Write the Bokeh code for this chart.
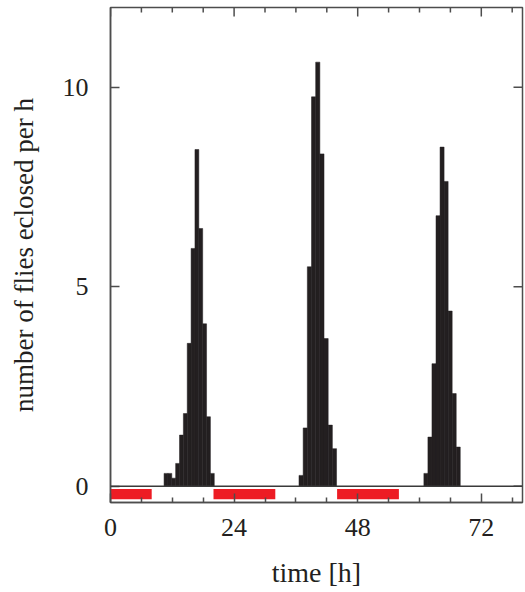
import math
from bokeh.plotting import figure
from bokeh.models import FixedTicker, Range1d, Span
from bokeh.embed import file_html
from bokeh.resources import INLINE

# ---- data ----
# eclosion histogram: three peaks, each a run of equal-width bins
peak_start = [10.4, 36.6, 60.85]          # left edge of first bin of each peak [h]
bin_width = [0.75, 0.81, 0.785]           # bin width of each peak [h]
peak1_counts = [0.32, 0.32, 0.20, 0.57, 1.28, 1.82, 3.58, 5.96, 8.44, 6.46, 4.07, 1.74, 0.32]
peak2_counts = [0.27, 1.46, 5.50, 9.76, 10.63, 8.33, 3.70, 1.53, 0.94]
peak3_counts = [0.32, 1.23, 3.07, 6.78, 8.50, 7.64, 4.39, 2.32, 0.98]
peak_counts = [peak1_counts, peak2_counts, peak3_counts]

# dark phases (red bars)
dark_start = [0, 20, 44]
dark_end = [8, 32, 56]

x_major = [0, 24, 48, 72]
x_minor = [6, 12, 18, 30, 36, 42, 54, 60, 66, 78]
y_major = [0, 5, 10]

X_END = 80
Y_START, Y_END = -0.41, 12

# ---- build bars ----
left, right, top = [], [], []
for s, w, cs in zip(peak_start, bin_width, peak_counts):
    for i, c in enumerate(cs):
        left.append(s + i * w)
        right.append(s + (i + 1) * w)
        top.append(c)

FONT = "Liberation Serif"
TXT = "#231f20"
FRAME = "#4d4d4d"

p = figure(width=525, height=592, output_backend="svg", toolbar_location=None,
           x_range=Range1d(0, X_END), y_range=Range1d(Y_START, Y_END),
           min_border_left=110, min_border_right=3, min_border_top=7, min_border_bottom=90,
           x_axis_label="time [h]", y_axis_label="number of flies eclosed per h")
p.grid.visible = False
p.background_fill_color = "white"
p.border_fill_color = "white"
p.outline_line_color = FRAME
p.outline_line_width = 1.5

p.quad(left=left, right=right, bottom=0, top=top,
       fill_color="#231f20", line_color="#231f20", line_width=0.5)

p.add_layout(Span(location=0, dimension="width", line_color="#3a3a3a", line_width=1.5))

p.quad(left=dark_start, right=dark_end, bottom=-0.33, top=-0.07,
       fill_color="#ed1c24", line_color=None)

# mirrored ticks on the top and right frame edges
p.ray(x=x_major, y=[Y_END] * len(x_major), length=9, length_units="screen",
      angle=-math.pi / 2, line_color=FRAME, line_width=1.5)
p.ray(x=x_minor, y=[Y_END] * len(x_minor), length=5, length_units="screen",
      angle=-math.pi / 2, line_color=FRAME, line_width=1.5)
p.ray(x=[X_END] * len(y_major), y=y_major, length=9, length_units="screen",
      angle=math.pi, line_color=FRAME, line_width=1.5)

def style_axis(ax):
    ax.axis_line_color = FRAME
    ax.axis_line_width = 1.5
    ax.major_tick_line_color = FRAME
    ax.minor_tick_line_color = FRAME
    ax.major_tick_line_width = 1.5
    ax.minor_tick_line_width = 1.5
    ax.major_tick_in = 9
    ax.major_tick_out = 0
    ax.minor_tick_in = 5
    ax.minor_tick_out = 0
    ax.major_label_text_font = FONT
    ax.major_label_text_color = TXT
    ax.axis_label_text_font = FONT
    ax.axis_label_text_color = TXT
    ax.axis_label_text_font_style = "normal"

p.xaxis.ticker = FixedTicker(ticks=x_major, minor_ticks=x_minor)
p.yaxis.ticker = FixedTicker(ticks=y_major, minor_ticks=[])
for ax in p.xaxis:
    style_axis(ax)
    ax.major_label_text_font_size = "26px"
    ax.major_label_standoff = 16
    ax.axis_label_text_font_size = "28px"
    ax.axis_label_standoff = 18
for ax in p.yaxis:
    style_axis(ax)
    ax.major_label_text_font_size = "26px"
    ax.major_label_standoff = 22
    ax.axis_label_text_font_size = "27px"
    ax.axis_label_standoff = 21

open("out.html", "w").write(file_html(p, INLINE))
